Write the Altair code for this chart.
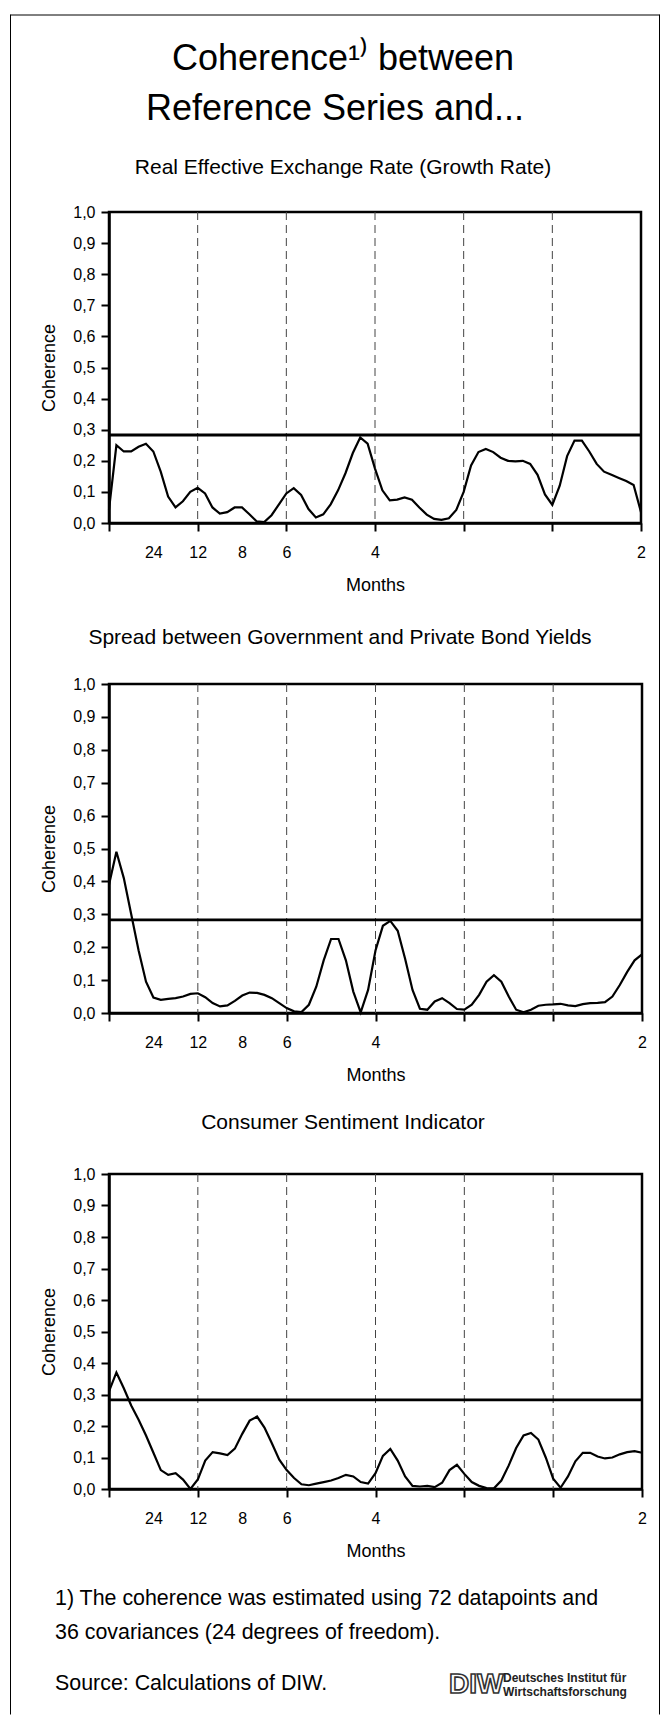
import altair as alt
import pandas as pd

FONT = "Liberation Sans"

# frequency grid in cycles per year (period in months = 12 / freq), 73 points
freq = [j / 12 for j in range(73)]

reer = [0.043, 0.25, 0.23, 0.23, 0.245, 0.255, 0.23, 0.165, 0.085, 0.05,
        0.07, 0.10, 0.113, 0.095, 0.05, 0.03, 0.035, 0.05, 0.05, 0.028,
        0.005, 0.003, 0.025, 0.06, 0.095, 0.112, 0.09, 0.045, 0.018, 0.028,
        0.06, 0.105, 0.16, 0.225, 0.275, 0.255, 0.175, 0.105, 0.073, 0.075,
        0.082, 0.075, 0.05, 0.027, 0.013, 0.01, 0.015, 0.042, 0.10, 0.185,
        0.228, 0.238, 0.228, 0.21, 0.20, 0.198, 0.20, 0.19, 0.155, 0.092,
        0.058, 0.12, 0.215, 0.265, 0.265, 0.23, 0.19, 0.165, 0.155, 0.145,
        0.135, 0.122, 0.035]

spread = [0.39, 0.49, 0.41, 0.30, 0.19, 0.095, 0.047, 0.04, 0.043, 0.045,
          0.05, 0.058, 0.06, 0.048, 0.03, 0.02, 0.023, 0.037, 0.053, 0.062,
          0.061, 0.055, 0.045, 0.03, 0.015, 0.005, 0.003, 0.025, 0.08, 0.16,
          0.225, 0.225, 0.16, 0.065, 0.002, 0.07, 0.19, 0.265, 0.28, 0.25,
          0.165, 0.07, 0.013, 0.01, 0.035, 0.045, 0.03, 0.012, 0.01, 0.025,
          0.055, 0.095, 0.115, 0.095, 0.05, 0.01, 0.002, 0.01, 0.022, 0.025,
          0.026, 0.028, 0.023, 0.021, 0.027, 0.03, 0.031, 0.033, 0.05, 0.085,
          0.125, 0.16, 0.178]

sentiment = [0.31, 0.37, 0.32, 0.265, 0.22, 0.17, 0.115, 0.06, 0.045, 0.05,
             0.03, 0.0, 0.03, 0.09, 0.117, 0.113, 0.108, 0.128, 0.175, 0.217,
             0.23, 0.195, 0.145, 0.093, 0.06, 0.035, 0.015, 0.012, 0.017, 0.022,
             0.027, 0.035, 0.045, 0.04, 0.022, 0.017, 0.05, 0.105, 0.127, 0.09,
             0.04, 0.01, 0.008, 0.01, 0.006, 0.02, 0.06, 0.077, 0.048, 0.022,
             0.01, 0.003, 0.002, 0.027, 0.075, 0.13, 0.17, 0.178, 0.157, 0.10,
             0.033, 0.004, 0.04, 0.088, 0.115, 0.115, 0.103, 0.097, 0.10, 0.11,
             0.117, 0.12, 0.115]

threshold = [0.283]
grid_freqs = [1, 2, 3, 4, 5]
tick_freqs = [0, 0.5, 1, 1.5, 2, 3, 4, 5, 6]
period_labels = [(0.5, "24"), (1, "12"), (1.5, "8"), (2, "6"), (3, "4"), (6, "2")]
coh_ticks = [round(i / 10, 1) for i in range(11)]

subtitles = ["Real Effective Exchange Rate (Growth Rate)",
             "Spread between Government and Private Bond Yields",
             "Consumer Sentiment Indicator"]
main_title = ["Coherence\u00b9\u207e between", "Reference Series and..."]
foot_lines = ["1) The coherence was estimated using 72 datapoints and",
              "36 covariances (24 degrees of freedom).",
              "Source: Calculations of DIW."]
logo_word = ["DIW"]
logo_lines = ["Deutsches Institut für", "Wirtschaftsforschung"]

label_expr = " : ".join(f"datum.value == {k} ? '{v}'" for k, v in period_labels) + " : ''"

# layout (pixels, relative to each panel's plot area)
FRAME_L, FRAME_R = -98.5, 550.5
GAP = 161
one = pd.DataFrame({"k": [0]})


def x_axis():
    return alt.Axis(values=tick_freqs, labelExpr=label_expr, grid=False,
                    tickOpacity={"condition": {"test": "datum.value == 0.5 || datum.value == 1.5",
                                               "value": 0}, "value": 1},
                    tickSize=8, tickWidth=2, tickColor="black",
                    domainColor="black", domainWidth=2.5,
                    labelFontSize=16, labelPadding=13, labelColor="black",
                    labelFlush=False, labelOverlap=False,
                    titleFontSize=18, titleFontWeight="normal", titleColor="black",
                    titlePadding=16)


def y_axis():
    return alt.Axis(values=coh_ticks,
                    labelExpr="replace(format(datum.value, '.1f'), '.', ',')",
                    grid=False, tickSize=8, tickWidth=2, tickColor="black",
                    domainColor="black", domainWidth=2.5,
                    labelFontSize=16, labelPadding=6, labelColor="black",
                    titleFontSize=18, titleFontWeight="normal", titleColor="black",
                    titlePadding=14)


def frame(top, bottom, with_top=False):
    layers = [
        alt.Chart(one).mark_rule(color="black", strokeWidth=1, strokeCap="square").encode(
            x=alt.value(FRAME_L), y=alt.value(top), y2=alt.value(bottom)),
        alt.Chart(one).mark_rule(color="black", strokeWidth=1, strokeCap="square").encode(
            x=alt.value(FRAME_R), y=alt.value(top), y2=alt.value(bottom)),
    ]
    if with_top:
        layers.append(alt.Chart(one).mark_rule(color="black", strokeWidth=1).encode(
            x=alt.value(FRAME_L), x2=alt.value(FRAME_R), y=alt.value(top)))
    return layers


def text_layer(lines, xpos, ypos, size, align="center", **kw):
    df = pd.DataFrame({"txt": lines})
    color = kw.pop("color", "black")
    out = []
    for i in range(len(lines)):
        out.append(alt.Chart(df.iloc[[i]]).mark_text(
            align=align, baseline="middle", fontSize=size, color=color, **kw).encode(
            text="txt:N", x=alt.value(xpos[i]), y=alt.value(ypos[i])))
    return out


def panel(values, subtitle, width, height, sub_x, sub_y, top, bottom, extra=None, with_top=False):
    xs = alt.Scale(domain=[0, 6], nice=False, zero=False)
    ys = alt.Scale(domain=[0, 1], nice=False)
    df = pd.DataFrame({"freq": freq, "coh": values})
    line = alt.Chart(df).mark_line(color="black", strokeWidth=2.2).encode(
        x=alt.X("freq:Q", scale=xs, axis=x_axis(), title="Months"),
        y=alt.Y("coh:Q", scale=ys, axis=y_axis(), title="Coherence"),
    )
    grid = alt.Chart(pd.DataFrame({"g": grid_freqs})).mark_rule(
        color="#444", strokeWidth=1, strokeDash=[8, 5]).encode(
        x=alt.X("g:Q", scale=xs, axis=x_axis(), title="Months"))
    thr = alt.Chart(pd.DataFrame({"t": threshold})).mark_rule(
        color="black", strokeWidth=2.8).encode(
        y=alt.Y("t:Q", scale=ys, axis=y_axis(), title="Coherence"))
    layers = [grid, thr, line]
    layers += text_layer([subtitle], [sub_x], [sub_y], 21)
    if extra:
        layers += extra
    layers += frame(top, bottom, with_top)
    return alt.layer(*layers).properties(width=width, height=height)


H1, H2, H3 = 311, 329, 315
half = GAP / 2

title_marks = text_layer(main_title, [234, 226], [-153, -103], 36)

foot = text_layer(foot_lines, [-54, -54, -54], [425, 459, 510], 21.4, align="left")
logo = text_layer(logo_word, [340], [511], 28, align="left", fontWeight="bold",
                  font="Liberation Sans Narrow, Liberation Sans", color="white",
                  stroke="#333", strokeWidth=1.6)
logo_txt = text_layer(logo_lines, [394, 394], [504, 518], 12, align="left",
                      fontWeight="bold", font="Liberation Sans Narrow, Liberation Sans",
                      color="#222")

p1 = panel(reer, subtitles[0], 532, H1, 234, -44, -197, H1 + half,
           extra=title_marks, with_top=True)
p2 = panel(spread, subtitles[1], 533, H2, 231, -46, -half, H2 + half)
p3 = panel(sentiment, subtitles[2], 533, H3, 234, -51, -half, 540,
           extra=foot + logo + logo_txt)

chart = alt.vconcat(p1, p2, p3, spacing=GAP, bounds="flush").properties(
    padding={"left": 0, "top": 5, "right": 0, "bottom": 0},
).configure(font=FONT).configure_view(stroke="black", strokeWidth=2.5)

chart.save("out.html", embed_options={"renderer": "svg", "actions": False})
